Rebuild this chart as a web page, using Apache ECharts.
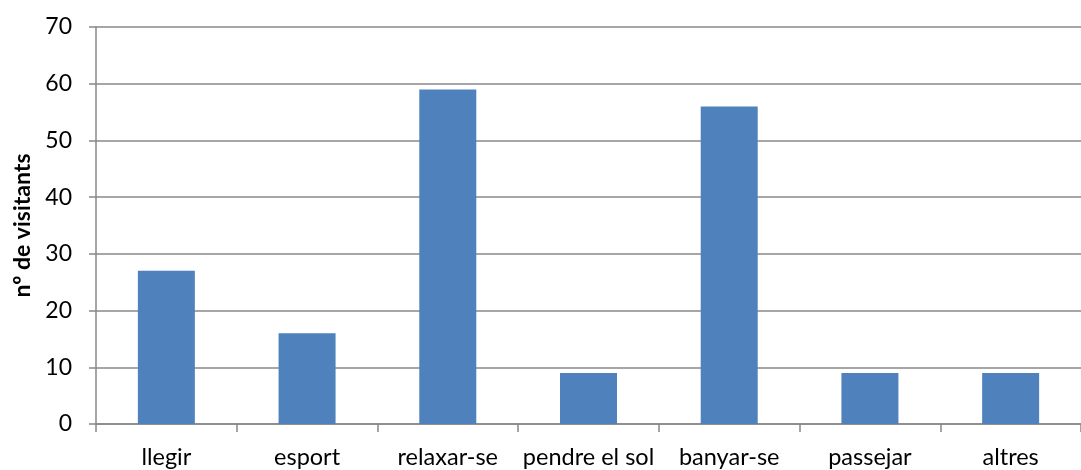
<!DOCTYPE html>
<html>
<head>
<meta charset="utf-8">
<script src="https://cdn.jsdelivr.net/npm/echarts@6/dist/echarts.min.js"></script>
<style>
  html, body { margin: 0; padding: 0; background: #fff; }
  #chart { width: 1081px; height: 470px; }
</style>
</head>
<body>
<div id="chart"></div>
<script>
const categories = ['llegir', 'esport', 'relaxar-se', 'pendre el sol', 'banyar-se', 'passejar', 'altres'];
const visitants = [27, 16, 59, 9, 56, 9, 9];
const yTicks = { min: 0, max: 70, interval: 10 };

const chart = echarts.init(document.getElementById('chart'));
const font = 'Lato, sans-serif';
const gray = '#888888';

chart.setOption({
  animation: false,
  grid: { left: 96, top: 27, width: 989, height: 397 },
  xAxis: {
    type: 'category',
    data: categories,
    axisLine: { lineStyle: { color: gray, width: 1.5 } },
    axisTick: { show: true, length: 8, lineStyle: { color: gray, width: 1.5 } },
    axisLabel: { color: '#000', fontFamily: font, fontSize: 23.5, margin: 21, interval: 0 },
  },
  yAxis: {
    type: 'value',
    min: yTicks.min,
    max: yTicks.max,
    interval: yTicks.interval,
    name: 'nº de visitants',
    nameLocation: 'middle',
    nameGap: 54,
    nameTextStyle: { color: '#000', fontFamily: font, fontSize: 23, fontWeight: 'bold' },
    axisLine: { show: true, lineStyle: { color: gray, width: 1.5 } },
    axisTick: { show: true, length: 7, lineStyle: { color: gray, width: 1.5 } },
    axisLabel: { color: '#000', fontFamily: font, fontSize: 23, margin: 24 },
    splitLine: { show: true, lineStyle: { color: gray, width: 1.5 } },
  },
  series: [{
    type: 'bar',
    data: visitants,
    barWidth: 57,
    itemStyle: { color: '#4F81BD' },
  }],
});
</script>
</body>
</html>
